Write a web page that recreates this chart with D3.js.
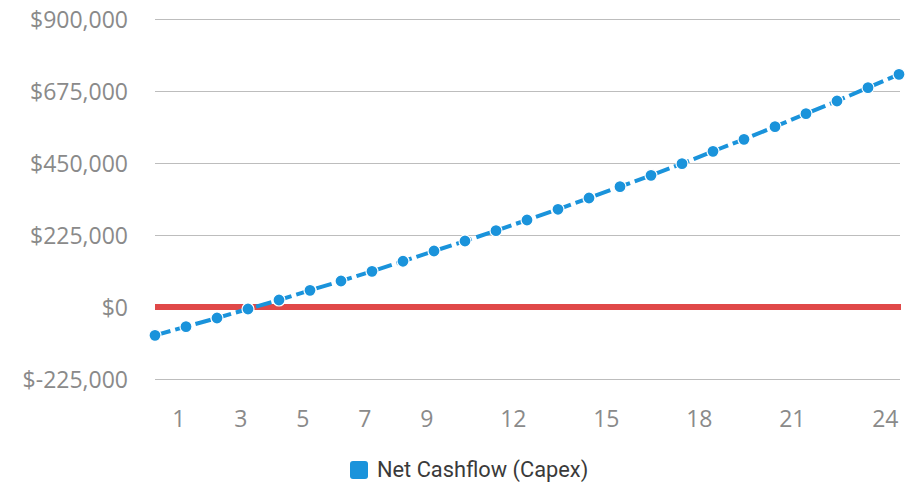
<!DOCTYPE html>
<html>
<head>
<meta charset="utf-8">
<script src="https://cdn.jsdelivr.net/npm/d3@7"></script>
<style>
  html, body { margin: 0; padding: 0; background: #fff; }
  svg { display: block; }
</style>
</head>
<body>
<svg id="chart" width="912" height="482"></svg>
<script>
const periods = [0,1,2,3,4,5,6,7,8,9,10,11,12,13,14,15,16,17,18,19,20,21,22,23,24];
const netCashflow = [-88500, -61500, -34400, -6250, 21900, 52000, 81250, 111500, 143000, 175000,
  206250, 238500, 271900, 305300, 340600, 376000, 411500, 447900, 486500, 524000,
  563500, 604200, 643750, 685400, 727000];
const xTickLabels = [1,3,5,7,9,12,15,18,21,24];
const yTicks = [-225000, 0, 225000, 450000, 675000, 900000];
const baseline = [0];
const seriesName = "Net Cashflow (Capex)";

(function () {
const svg = d3.select("#chart");
const plotLeft = 155, plotRight = 900, plotTop = 19, plotBottom = 379;
const x = d3.scaleLinear().domain([0, 24]).range([plotLeft, 899]);
const y = d3.scaleLinear().domain([-225000, 900000]).range([plotBottom, plotTop]);
const blue = "#1A93DB", red = "#E04848", gray = "#8a8a8a";

const fmt = v => "$" + (v < 0 ? "-" : "") + d3.format(",")(Math.abs(v));

// y axis + grid
const yAxis = svg.append("g").attr("transform", `translate(${plotLeft},0)`)
  .call(d3.axisLeft(y).tickValues(yTicks).tickFormat(fmt)
    .tickSize(-(plotRight - plotLeft)).tickPadding(27));
yAxis.select(".domain").remove();
yAxis.selectAll(".tick line").attr("stroke", "#bdbdbd").attr("stroke-width", 1);
yAxis.selectAll(".tick text")
  .attr("fill", gray).attr("font-family", "'Open Sans', sans-serif")
  .attr("font-size", 23).attr("dy", "0.36em");

// x axis
const xAxis = svg.append("g").attr("transform", `translate(0,${plotBottom})`)
  .call(d3.axisBottom(x).tickValues(xTickLabels).tickFormat(d3.format("d")).tickSize(0).tickPadding(0));
xAxis.select(".domain").remove();
xAxis.selectAll(".tick text")
  .attr("fill", gray).attr("font-family", "'Open Sans', sans-serif")
  .attr("font-size", 23).attr("text-anchor", "end")
  .attr("dx", -1).attr("y", 48).attr("dy", 0);

// red zero line
svg.selectAll(".zero").data(baseline).enter().append("line")
  .attr("class", "zero")
  .attr("x1", plotLeft).attr("x2", plotRight + 1)
  .attr("y1", d => y(d)).attr("y2", d => y(d))
  .attr("stroke", red).attr("stroke-width", 6);

// series line
const data = periods.map((p, i) => ({p, v: netCashflow[i]}));
svg.append("path").datum(data)
  .attr("fill", "none").attr("stroke", blue).attr("stroke-width", 4)
  .attr("stroke-dasharray", "16,5")
  .attr("d", d3.line().x(d => x(d.p)).y(d => y(d.v)));

svg.selectAll(".pt").data(data).enter().append("circle")
  .attr("class", "pt")
  .attr("cx", d => x(d.p)).attr("cy", d => y(d.v)).attr("r", 6)
  .attr("fill", blue).attr("stroke", "#fff").attr("stroke-width", 1.2);

// legend
const lg = svg.append("g");
lg.append("rect").attr("x", 350).attr("y", 461).attr("width", 18).attr("height", 18)
  .attr("rx", 3).attr("fill", blue);
lg.append("text").attr("x", 377).attr("y", 477)
  .attr("font-family", "Roboto, sans-serif").attr("font-size", 21.8)
  .attr("fill", "#3a3a3a").text(seriesName);
})();
</script>
</body>
</html>
